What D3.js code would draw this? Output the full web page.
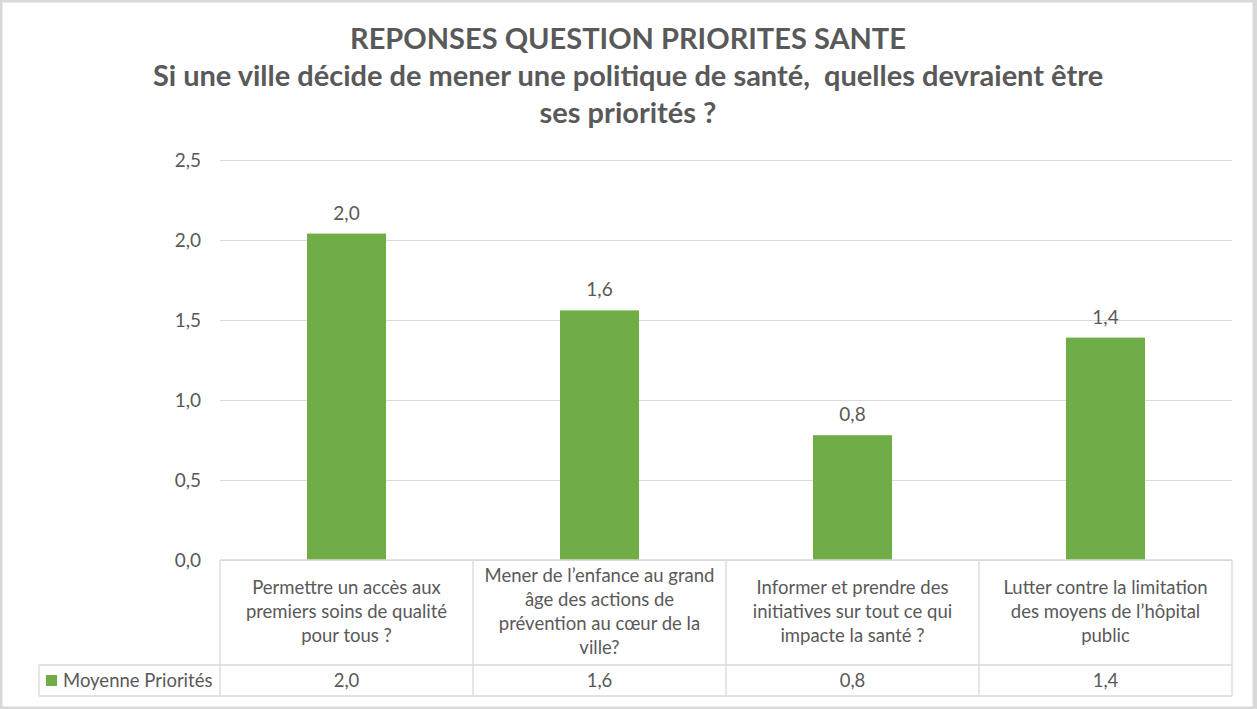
<!DOCTYPE html>
<html>
<head>
<meta charset="utf-8">
<script src="https://cdn.jsdelivr.net/npm/d3@7"></script>
<style>
  html, body { margin: 0; padding: 0; background: #d9d9d9; }
  svg { display: block; }
  text { font-family: Lato, "Open Sans", sans-serif; fill: #595959; }
</style>
</head>
<body>
<script>
// data
const categories = [
  "Permettre un accès aux premiers soins de qualité pour tous ?",
  "Mener de l’enfance au grand âge des actions de prévention au cœur de la ville?",
  "Informer et prendre des initiatives sur tout ce qui impacte la santé ?",
  "Lutter contre la limitation des moyens de l’hôpital public"
];
const categoryLines = [
  ["Permettre un accès aux", "premiers soins de qualité", "pour tous ?"],
  ["Mener de l’enfance au grand", "âge des actions de", "prévention au cœur de la", "ville?"],
  ["Informer et prendre des", "initiatives sur tout ce qui", "impacte la santé ?"],
  ["Lutter contre la limitation", "des moyens de l’hôpital", "public"]
];
const seriesName = "Moyenne Priorités";
const values = [2.04, 1.56, 0.78, 1.39];
const yTicks = [0, 0.5, 1.0, 1.5, 2.0, 2.5];
const titleLines = [
  "REPONSES QUESTION PRIORITES SANTE",
  "Si une ville décide de mener une politique de santé,\u00a0 quelles devraient être",
  "ses priorités ?"
];

function drawChart() {
    const width = 1257;
    const height = 709;
    const margin = { left: 220, right: 25, top: 160, bottom: 149 };
    const tableBottom = 696;
    const legendLeft = 39;
    const legendTop = 665;
    const barColor = '#70ad47';
    const lineColor = '#d9d9d9';
    const fmt = v => d3.format('.1f')(v).replace('.', ',');

    const svg = d3.select('body')
	  .append('svg')
	  .attr('width', width)
	  .attr('height', height);

    // chart area frame
    svg.append('rect')
	.attr('x', 2.5).attr('y', 2.5)
	.attr('width', 1250).attr('height', 704)
	.attr('fill', '#fff');

    const x = d3.scaleBand()
	  .domain(d3.range(categories.length))
	  .range([margin.left, width - margin.right]);

    const y = d3.scaleLinear()
	  .domain([0, 2.5])
	  .range([height - margin.bottom, margin.top]);

    // title
    svg.append('text')
	.attr('x', 628)
	.attr('text-anchor', 'middle')
	.style('font-weight', 'bold')
	.style('font-size', '29px')
	.selectAll('tspan')
	.data(titleLines)
	.enter()
	.append('tspan')
	.attr('x', 628)
	.attr('y', (d, i) => 49 + i * 37)
	.text(d => d);

    // gridlines + y axis labels
    const yAxis = svg.append('g')
	  .attr('class', 'y axis')
	  .attr('transform', `translate(${margin.left}, 0)`)
	  .call(d3.axisLeft(y)
		.tickValues(yTicks)
		.tickSize(-(width - margin.left - margin.right))
		.tickPadding(19)
		.tickFormat(fmt));
    yAxis.select('.domain').remove();
    yAxis.selectAll('.tick line').attr('stroke', lineColor);
    yAxis.selectAll('.tick text')
	.attr('fill', '#595959')
	.style('font-family', 'Lato, sans-serif')
	.style('font-size', '19px');

    // bars
    const barWidth = 79;
    svg.selectAll('rect.bar')
	.data(values)
	.enter()
	.append('rect')
	.attr('class', 'bar')
	.attr('x', (d, i) => x(i) + x.bandwidth() / 2 - barWidth / 2)
	.attr('y', d => y(d))
	.attr('width', barWidth)
	.attr('height', d => y(0) - y(d))
	.attr('fill', barColor);

    // data labels
    svg.selectAll('text.label')
	.data(values)
	.enter()
	.append('text')
	.attr('class', 'label')
	.attr('x', (d, i) => x(i) + x.bandwidth() / 2)
	.attr('y', d => y(d) - 14)
	.attr('text-anchor', 'middle')
	.style('font-size', '19px')
	.text(d => fmt(d));

    // data table
    const table = svg.append('g').attr('class', 'table')
	  .attr('stroke', lineColor).attr('stroke-width', 1.3);
    table.append('line')
	.attr('x1', margin.left).attr('x2', width - margin.right)
	.attr('y1', y(0)).attr('y2', y(0));
    table.append('line')
	.attr('x1', legendLeft).attr('x2', width - margin.right)
	.attr('y1', legendTop).attr('y2', legendTop);
    table.append('line')
	.attr('x1', legendLeft).attr('x2', width - margin.right)
	.attr('y1', tableBottom).attr('y2', tableBottom);
    table.append('line')
	.attr('x1', legendLeft).attr('x2', legendLeft)
	.attr('y1', legendTop).attr('y2', tableBottom);
    table.selectAll('line.col')
	.data(d3.range(categories.length + 1))
	.enter()
	.append('line')
	.attr('class', 'col')
	.attr('x1', i => i < categories.length ? x(i) : x(i - 1) + x.bandwidth())
	.attr('x2', i => i < categories.length ? x(i) : x(i - 1) + x.bandwidth())
	.attr('y1', y(0)).attr('y2', tableBottom);

    // category labels
    const cellMid = 618;
    const lineH = 24;
    svg.selectAll('text.cat')
	.data(categoryLines)
	.enter()
	.append('text')
	.attr('class', 'cat')
	.attr('text-anchor', 'middle')
	.style('font-size', '18.5px')
	.each(function (lines, i) {
	    d3.select(this).selectAll('tspan')
		.data(lines)
		.enter()
		.append('tspan')
		.attr('x', x(i) + x.bandwidth() / 2)
		.attr('y', (d, j) => cellMid + (j - (lines.length - 1) / 2) * lineH)
		.text(d => d);
	});

    // legend row
    svg.append('rect')
	.attr('x', 46).attr('y', 675)
	.attr('width', 11).attr('height', 11)
	.attr('fill', barColor);
    svg.append('text')
	.attr('x', 63).attr('y', 687)
	.style('font-size', '18.5px')
	.text(seriesName);
    svg.selectAll('text.val')
	.data(values)
	.enter()
	.append('text')
	.attr('class', 'val')
	.attr('x', (d, i) => x(i) + x.bandwidth() / 2)
	.attr('y', 687)
	.attr('text-anchor', 'middle')
	.style('font-size', '18.5px')
	.text(d => fmt(d));
}

drawChart();
</script>
</body>
</html>
